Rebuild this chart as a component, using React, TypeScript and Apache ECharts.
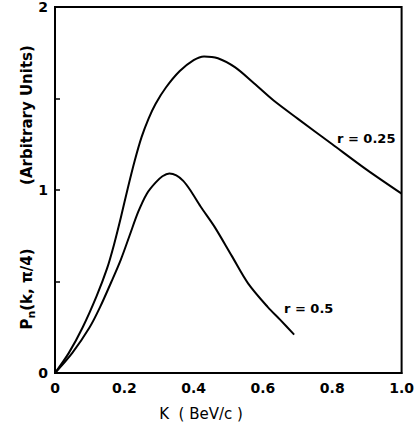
import React, { useEffect, useRef } from "react";
import * as echarts from "echarts";

const kUpper = [0, 0.04, 0.08, 0.12, 0.15, 0.17, 0.19, 0.21, 0.23, 0.25, 0.27, 0.29, 0.32, 0.36, 0.4, 0.43, 0.47, 0.52, 0.57, 0.63, 0.7, 0.8, 0.9, 1.0];
const pUpper = [0, 0.11, 0.25, 0.42, 0.57, 0.7, 0.85, 1.01, 1.16, 1.29, 1.39, 1.47, 1.56, 1.65, 1.71, 1.73, 1.72, 1.67, 1.59, 1.49, 1.39, 1.25, 1.11, 0.98];
const kLower = [0, 0.05, 0.1, 0.13, 0.163, 0.19, 0.215, 0.24, 0.265, 0.29, 0.31, 0.33, 0.35, 0.37, 0.39, 0.42, 0.46, 0.51, 0.557, 0.614, 0.65, 0.69];
const pLower = [0, 0.11, 0.25, 0.36, 0.5, 0.62, 0.75, 0.88, 0.98, 1.04, 1.075, 1.09, 1.08, 1.05, 1.0, 0.91, 0.8, 0.64, 0.49, 0.36, 0.29, 0.21];
const xTicks = [0, 0.2, 0.4, 0.6, 0.8, 1.0];
const yTicks = [0, 1, 2];

const FONT = "'DejaVu Sans', sans-serif";

export default function App() {
  const ref = useRef<HTMLDivElement>(null);
  useEffect(() => {
    if (!ref.current) return;
    const chart = echarts.init(ref.current, null, { renderer: "svg" });
    chart.setOption({
      animation: false,
      backgroundColor: "#fff",
      grid: { left: 55, top: 5, right: 12, bottom: 57, show: true, borderColor: "#000", borderWidth: 2 },
      xAxis: {
        type: "value",
        min: 0,
        max: 1,
        interval: 0.2,
        axisLine: { lineStyle: { color: "#000", width: 2 } },
        axisTick: { show: false },
        splitLine: { show: false },
        axisLabel: {
          color: "#000",
          fontFamily: FONT,
          fontWeight: "bold",
          fontSize: 14,
          margin: 8,
          formatter: (v: number) => (xTicks.some((t) => Math.abs(t - v) < 1e-6) ? (v === 0 ? "0" : v.toFixed(1)) : ""),
        },
      },
      yAxis: {
        type: "value",
        min: 0,
        max: 2,
        interval: 0.5,
        axisLine: { lineStyle: { color: "#000", width: 2 } },
        axisTick: { show: true, inside: true, length: 5, lineStyle: { color: "#000", width: 1.5 } },
        splitLine: { show: false },
        axisLabel: {
          color: "#000",
          fontFamily: FONT,
          fontWeight: "bold",
          fontSize: 14,
          margin: 7,
          formatter: (v: number) => (yTicks.includes(v) ? String(v) : ""),
        },
      },
      graphic: [
        {
          type: "text",
          x: 27,
          y: 289,
          rotation: Math.PI / 2,
          style: {
            text: "{a|P}{s|n}{a|(k, π/4)}",
            align: "center",
            verticalAlign: "middle",
            rich: {
              a: { fontFamily: FONT, fontSize: 15, fontWeight: "bold", fill: "#000" },
              s: { fontFamily: FONT, fontSize: 11, fontWeight: "bold", fill: "#000", padding: [8, 0, 0, 0] },
            },
          },
        },
        {
          type: "text",
          x: 27,
          y: 115,
          rotation: Math.PI / 2,
          style: {
            text: "(Arbitrary Units)",
            align: "center",
            verticalAlign: "middle",
            fontFamily: FONT,
            fontSize: 15,
            fontWeight: "bold",
            fill: "#000",
          },
        },
        {
          type: "text",
          x: 201,
          y: 414,
          style: {
            text: "K  ( BeV/c )",
            align: "center",
            verticalAlign: "middle",
            fontFamily: FONT,
            fontSize: 15,
            fill: "#000",
          },
        },
        { type: "text", left: 337, top: 132, style: { text: "r = 0.25", fontFamily: FONT, fontWeight: "bold", fontSize: 13, fill: "#000" } },
        { type: "text", left: 284, top: 302, style: { text: "r = 0.5", fontFamily: FONT, fontWeight: "bold", fontSize: 13, fill: "#000" } },
      ],
      series: [
        {
          type: "line",
          smooth: 0.3,
          symbol: "none",
          lineStyle: { color: "#000", width: 2 },
          data: kUpper.map((k, i) => [k, pUpper[i]]),
        },
        {
          type: "line",
          smooth: 0.3,
          symbol: "none",
          lineStyle: { color: "#000", width: 2 },
          data: kLower.map((k, i) => [k, pLower[i]]),
        },
      ],
    });
    return () => chart.dispose();
  }, []);
  return <div ref={ref} style={{ width: 417, height: 430, position: "absolute", left: 0, top: 0 }} />;
}
